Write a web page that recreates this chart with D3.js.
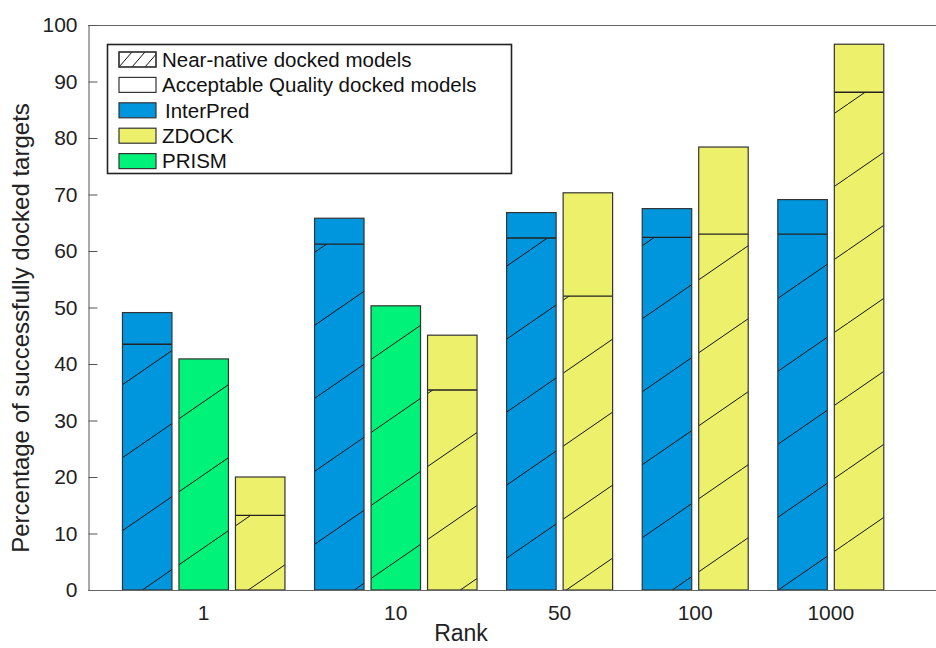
<!DOCTYPE html>
<html>
<head>
<meta charset="utf-8">
<script src="https://cdn.jsdelivr.net/npm/d3@7"></script>
<style>
  html, body { margin: 0; padding: 0; background: #fff; }
  svg { display: block; font-family: "Liberation Sans", Arial, Helvetica, sans-serif; }
</style>
</head>
<body>
<svg id="chart" width="936" height="648"></svg>
<script>
// Rank cut-offs along the x axis
const ranks = ["1", "10", "50", "100", "1000"];

// Docking methods, in drawing order within each rank group
const methods = ["InterPred", "PRISM", "ZDOCK"];

// Percentage of targets with at least one acceptable-quality model (total bar height)
const interPredAcceptable = [49.1, 65.8, 66.8, 67.5, 69.1];
const prismAcceptable     = [40.9, 50.3, null, null, null];
const zdockAcceptable     = [20.0, 45.1, 70.3, 78.4, 96.6];

// Percentage of targets with a near-native model (hatched part of the bar)
const interPredNearNative = [43.5, 61.2, 62.3, 62.4, 63.0];
const prismNearNative     = [40.9, 50.3, null, null, null];
const zdockNearNative     = [13.2, 35.4, 52.0, 63.0, 88.1];

// Y axis tick values
const yTicks = [0, 10, 20, 30, 40, 50, 60, 70, 80, 90, 100];

// Legend entries
const legendLabels = ["Near-native docked models", "Acceptable Quality docked models",
                      "InterPred", "ZDOCK", "PRISM"];

const colors = { InterPred: "#0096de", PRISM: "#00f278", ZDOCK: "#edf06a" };

const series = {
  InterPred: { acc: interPredAcceptable, near: interPredNearNative },
  PRISM:     { acc: prismAcceptable,     near: prismNearNative },
  ZDOCK:     { acc: zdockAcceptable,     near: zdockNearNative }
};

const svg = d3.select("#chart");

// Bars are laid out in "slot" units: one slot per bar, a small gap between rank groups
const groupGap = 0.40;
const barFrac = 0.876;
const bars = [];
let cursor = 0;
const groupCenters = [];
ranks.forEach((rank, gi) => {
  const present = methods.filter(m => series[m].acc[gi] != null);
  const start = cursor;
  present.forEach((m, k) => {
    bars.push({ rank, method: m, slot: start + k,
                acc: series[m].acc[gi], near: series[m].near[gi] });
  });
  groupCenters.push(start + (present.length - 1 + barFrac) / 2);
  cursor = start + present.length + groupGap;
});

const plotLeft = 88, plotRight = 936, plotTop = 25, plotBottom = 590;
const x = d3.scaleLinear().domain([-0.61, 14.40]).range([plotLeft, plotRight]);
const y = d3.scaleLinear().domain([0, 100]).range([plotBottom, plotTop]);
const slotPx = x(1) - x(0);

// Diagonal hatch used for the near-native portion of each bar
const defs = svg.append("defs");
const hatchW = 106, hatchH = 73;
const hatch = defs.append("pattern")
  .attr("id", "hatch")
  .attr("patternUnits", "userSpaceOnUse")
  .attr("x", 0).attr("y", plotBottom - 48)
  .attr("width", hatchW).attr("height", hatchH);
hatch.append("line")
  .attr("x1", -hatchW * 0.1).attr("y1", hatchH * 1.1)
  .attr("x2", hatchW * 1.1).attr("y2", -hatchH * 0.1)
  .attr("stroke", "#111").attr("stroke-width", 1);

const hatchSmall = defs.append("pattern")
  .attr("id", "hatchSmall")
  .attr("patternUnits", "userSpaceOnUse")
  .attr("x", 119).attr("y", 52)
  .attr("width", 13).attr("height", 15);
hatchSmall.append("line")
  .attr("x1", -1.3).attr("y1", 16.5).attr("x2", 14.3).attr("y2", -1.5)
  .attr("stroke", "#111").attr("stroke-width", 1);

// Top edge of the axes box
svg.append("line").attr("x1", plotLeft).attr("x2", plotRight)
  .attr("y1", plotTop + 0.5).attr("y2", plotTop + 0.5)
  .attr("stroke", "#666").attr("stroke-width", 1);

// Y axis
const yAxis = d3.axisLeft(y).tickValues(yTicks).tickSize(-9).tickSizeOuter(0).tickPadding(11);
const gy = svg.append("g").attr("transform", `translate(${plotLeft + 0.5},0)`).call(yAxis);
gy.select(".domain").attr("stroke", "#555");
gy.selectAll(".tick line").attr("stroke", "#555");
gy.selectAll(".tick text").attr("font-size", 21).attr("fill", "#222")
  .attr("font-family", "Liberation Sans, Arial, sans-serif");

// Bars: solid fill for acceptable, hatch overlay for near-native, divider and outline
const gBars = svg.append("g");
bars.forEach(b => {
  const bx = x(b.slot), bw = slotPx * barFrac;
  gBars.append("rect")
    .attr("x", bx).attr("y", y(b.acc)).attr("width", bw).attr("height", y(0) - y(b.acc))
    .attr("fill", colors[b.method]);
  gBars.append("rect")
    .attr("x", bx).attr("y", y(b.near)).attr("width", bw).attr("height", y(0) - y(b.near))
    .attr("fill", "url(#hatch)");
  if (b.near < b.acc) {
    gBars.append("line")
      .attr("x1", bx).attr("x2", bx + bw).attr("y1", y(b.near)).attr("y2", y(b.near))
      .attr("stroke", "#222").attr("stroke-width", 1.3);
  }
  gBars.append("rect")
    .attr("x", bx).attr("y", y(b.acc)).attr("width", bw).attr("height", y(0) - y(b.acc))
    .attr("fill", "none").attr("stroke", "#333").attr("stroke-width", 1.2);
});

// X axis baseline and rank labels
svg.append("line").attr("x1", plotLeft).attr("x2", plotRight)
  .attr("y1", plotBottom + 0.5).attr("y2", plotBottom + 0.5)
  .attr("stroke", "#666").attr("stroke-width", 1.2);

svg.append("g").selectAll("text").data(ranks).join("text")
  .attr("x", (d, i) => x(groupCenters[i]))
  .attr("y", 620)
  .attr("text-anchor", "middle")
  .attr("font-size", 21).attr("fill", "#222")
  .text(d => d);

// Axis titles
svg.append("text").attr("x", 461).attr("y", 641)
  .attr("text-anchor", "middle").attr("font-size", 23).attr("fill", "#222")
  .text("Rank");
svg.append("text")
  .attr("transform", "translate(29,328) rotate(-90)")
  .attr("text-anchor", "middle").attr("font-size", 24).attr("fill", "#222")
  .text("Percentage of successfully docked targets");

// Legend
const legend = svg.append("g");
legend.append("rect").attr("x", 107.5).attr("y", 44.5).attr("width", 404).attr("height", 129)
  .attr("fill", "#fff").attr("stroke", "#222").attr("stroke-width", 1.6);
const legendFills = ["#fff", "#fff", colors.InterPred, colors.ZDOCK, colors.PRISM];
legendLabels.forEach((label, i) => {
  const cy = 59.5 + i * 25.4;
  legend.append("rect").attr("x", 119).attr("y", cy - 7.5).attr("width", 37).attr("height", 15)
    .attr("fill", legendFills[i]).attr("stroke", "#333").attr("stroke-width", 1.2);
  if (i === 0) {
    legend.append("rect").attr("x", 119).attr("y", cy - 7.5).attr("width", 37).attr("height", 15)
      .attr("fill", "url(#hatchSmall)").attr("stroke", "#333").attr("stroke-width", 1.2);
  }
  legend.append("text").attr("x", i === 2 ? 165 : 162).attr("y", cy).attr("dy", "0.36em")
    .attr("font-size", 20.5).attr("fill", "#111")
    .text(label);
});
</script>
</body>
</html>
